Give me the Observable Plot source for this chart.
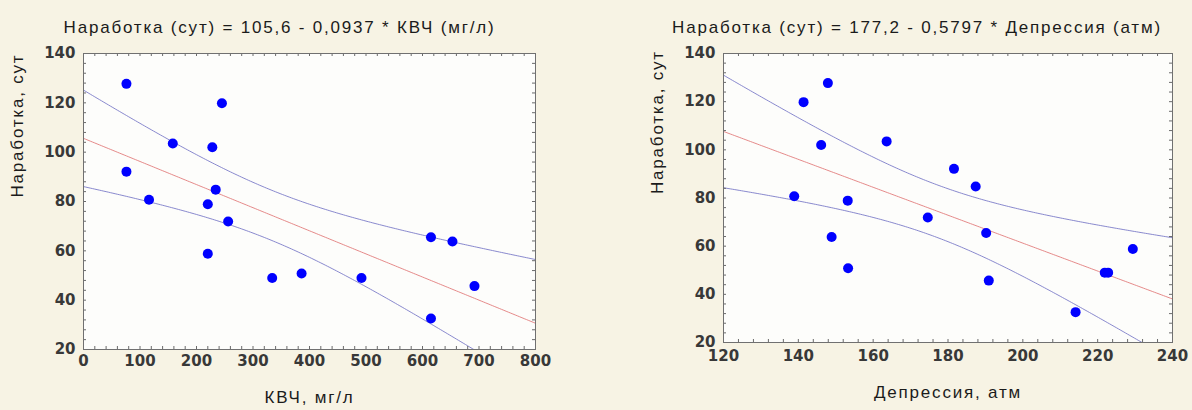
<!DOCTYPE html>
<html>
<head>
<meta charset="utf-8">
<script src="https://cdn.jsdelivr.net/npm/d3@7"></script>
<script src="https://cdn.jsdelivr.net/npm/@observablehq/plot@0.6"></script>
<style>
  html, body { margin: 0; padding: 0; background: #f7f3e4; }
  #chart { position: relative; width: 1192px; height: 410px; background: #f7f3e4; overflow: hidden; }
  #chart svg { position: absolute; top: 0; }
  g[aria-description="caption"] text { letter-spacing: 1.8px; }
</style>
</head>
<body>
<div id="chart"></div>
<script>
// Наработка скважин, сут (одна и та же выборка для обеих панелей)
const runtime = [127.7, 119.8, 103.5, 102.0, 92.1, 84.8, 80.7, 78.9, 71.9, 65.5, 63.8, 58.8, 50.8, 49.0, 49.0, 45.7, 32.6];
// КВЧ, мг/л
const kvch = [76, 245, 158, 228, 76, 234, 116, 220, 256, 615, 653, 220, 386, 334, 492, 692, 615];
// Депрессия, атм
const depression = [147.9, 141.4, 163.6, 146.1, 181.6, 187.4, 138.9, 153.2, 174.6, 190.2, 148.9, 229.4, 153.3, 221.9, 222.8, 190.9, 214.1];

// Коэффициенты уравнений регрессии (как в заголовках)
const kvchFit = {intercept: 105.6, slope: -0.0937};
const depressionFit = {intercept: 177.2, slope: -0.5797};

const kvchTicks = d3.range(0, 801, 100);
const depressionTicks = d3.range(120, 241, 20);
const runtimeTicks = d3.range(20, 141, 20);

const yLabel = "Наработка, сут";

// Линия регрессии и 95% доверительный интервал для среднего
function regressionBand(xs, ys, {intercept, slope}, [x0, x1]) {
  const n = xs.length;
  const xbar = d3.mean(xs);
  const sxx = d3.sum(xs, x => (x - xbar) ** 2);
  const sse = d3.sum(xs, (x, i) => (ys[i] - (intercept + slope * x)) ** 2);
  const s = Math.sqrt(sse / (n - 2));
  const t = 2.1314; // t(0.975; n - 2 = 15)
  return d3.range(x0, x1 + 1e-9, (x1 - x0) / 200).map(x => {
    const fit = intercept + slope * x;
    const h = t * s * Math.sqrt(1 / n + (x - xbar) ** 2 / sxx);
    return {x, fit, lo: fit - h, hi: fit + h};
  });
}

function panel({xs, fitCoef, xDomain, xTicks, xMinor, title, titleDx, xLabel, xLabelDy, xTickDy,
                marginLeft, marginRight, marginBottom, yLabelDx}) {
  const width = 596, height = 410, marginTop = 53;
  const fw = width - marginLeft - marginRight;
  const fh = height - marginTop - marginBottom;
  const points = xs.map((x, i) => ({x, y: runtime[i]}));
  const band = regressionBand(xs, runtime, fitCoef, xDomain);
  const minorY = d3.range(20, 141, 4);
  const tick = "#6a6a6a";
  const tickText = {fontFamily: "DejaVu Sans", fontWeight: "bold", fontSize: 15, fill: "#383838"};
  const caption = {fontFamily: "Liberation Sans, Arial", fontSize: 17, fill: "#1b1b1b", ariaDescription: "caption"};
  return Plot.plot({
    width, height, marginTop, marginLeft, marginRight, marginBottom,
    style: {background: "transparent", overflow: "visible"},
    x: {domain: xDomain, axis: null},
    y: {domain: [20, 140], axis: null},
    marks: [
      Plot.frame({fill: "#fdfdfb", stroke: null}),
      Plot.line(band, {x: "x", y: "hi", stroke: "#7474c6", strokeOpacity: 0.85, strokeWidth: 1, clip: true}),
      Plot.line(band, {x: "x", y: "lo", stroke: "#7474c6", strokeOpacity: 0.85, strokeWidth: 1, clip: true}),
      Plot.line(band, {x: "x", y: "fit", stroke: "#e07676", strokeOpacity: 0.85, strokeWidth: 1, clip: true}),
      Plot.dot(points, {x: "x", y: "y", r: 5, fill: "#0000ff", stroke: null}),
      // внутренние засечки по всем четырём сторонам
      Plot.ruleX(xMinor, {x: d => d, insetTop: fh - 3, stroke: tick}),
      Plot.ruleX(xMinor, {x: d => d, insetBottom: fh - 3, stroke: tick}),
      Plot.ruleY(minorY, {y: d => d, insetRight: fw - 3, stroke: tick}),
      Plot.ruleY(minorY, {y: d => d, insetLeft: fw - 3, stroke: tick}),
      Plot.frame({stroke: "#707070", strokeWidth: 1}),
      Plot.text(xTicks, {x: d => d, frameAnchor: "bottom", dy: xTickDy, text: d => String(d), ...tickText}),
      Plot.text(runtimeTicks, {y: d => d, frameAnchor: "left", dx: -8, textAnchor: "end", text: d => String(d), ...tickText}),
      Plot.text([title], {frameAnchor: "top", dx: titleDx, dy: -33, ...caption}),
      Plot.text([xLabel], {frameAnchor: "bottom", dy: xLabelDy, ...caption}),
      Plot.text([yLabel], {frameAnchor: "left", rotate: -90, dx: yLabelDx, dy: -4, ...caption})
    ]
  });
}

const left = panel({
  xs: kvch, fitCoef: kvchFit, xDomain: [0, 800], xTicks: kvchTicks, xMinor: d3.range(0, 801, 20),
  title: "Наработка (сут) = 105,6 - 0,0937 * КВЧ (мг/л)", titleDx: -30,
  xLabel: "КВЧ, мг/л", xLabelDy: 53, xTickDy: 16,
  marginLeft: 83, marginRight: 61, marginBottom: 61, yLabelDx: -66
});
left.style.left = "0px";

const right = panel({
  xs: depression, fitCoef: depressionFit, xDomain: [120, 240], xTicks: depressionTicks, xMinor: d3.range(120, 241, 4),
  title: "Наработка (сут) = 177,2 - 0,5797 * Депрессия (атм)", titleDx: -31,
  xLabel: "Депрессия, атм", xLabelDy: 55, xTickDy: 18,
  marginLeft: 127, marginRight: 20, marginBottom: 68, yLabelDx: -66
});
right.style.left = "596px";

document.getElementById("chart").append(left, right);
</script>
</body>
</html>
